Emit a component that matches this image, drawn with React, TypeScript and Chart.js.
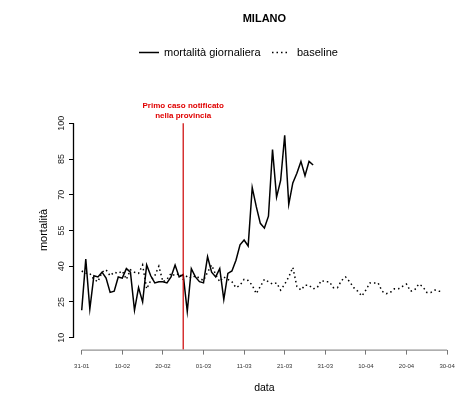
import React, { useEffect, useRef } from 'react';
import { Chart, registerables } from 'chart.js';
Chart.register(...registerables);

// day 0 = 31-01-2020
const tickDays = [0, 10, 20, 30, 40, 50, 60, 70, 80, 90];
const tickLabels = ['31-01', '10-02', '20-02', '01-03', '11-03', '21-03', '31-03', '10-04', '20-04', '30-04'];
const yTicks = [10, 25, 40, 55, 70, 85, 100];

const mortalita = [
  21.5, 43, 22, 36, 35.5, 37.5, 35, 29, 29.5, 35.5,
  35, 39, 37.5, 21.5, 31, 25, 40.5, 36, 33, 33.5,
  33.5, 33, 35.5, 40.5, 35.5, 36.5, 21, 39, 35.5, 33.5,
  33, 44, 37.5, 35.5, 39, 26, 37, 38, 42.5, 49,
  51, 48.5, 73, 65, 58, 56, 61, 89, 69, 76,
  95, 66, 75, 79, 84, 78, 84, 82.5,
];

const baseline = [
  38, 37, 37, 34.5, 33.5, 37.5, 38.5, 36, 37.5, 37,
  38, 34.5, 38.5, 37.5, 37, 40.5, 30.5, 34, 36, 40,
  33.5, 34.5, 37, 36, 37, 34.5, 36, 35, 36, 35,
  34, 37.5, 40.5, 36.5, 33.5, 35.5, 34.5, 33.5, 31, 32,
  34.5, 34, 32, 28.5, 31.5, 34.5, 33.5, 32.5, 33, 30,
  32.5, 35.5, 39.5, 31.5, 30, 32, 32, 30.5, 31, 34,
  33.5, 33.5, 31, 31, 34, 35.5, 33.5, 31, 29.5, 27.5,
  30, 33, 33, 33, 29.5, 28.5, 29, 30.5, 30.5, 31.5,
  32.5, 29.5, 30, 32.5, 31.5, 29, 29, 30, 29.5, 29.5,
];

const firstCaseDay = 25;
const seriesNames = ['mortalità giornaliera', 'baseline'];

const FONT = '"Liberation Sans", Arial, Helvetica, sans-serif';

const overlay = {
  id: 'overlay',
  afterDatasetsDraw(chart: any) {
    const { ctx, chartArea, scales } = chart;
    const xs = scales.x;
    const ys = scales.y;
    ctx.save();
    // red vertical line
    const rx = xs.getPixelForValue(firstCaseDay);
    ctx.strokeStyle = '#cc0000';
    ctx.lineWidth = 1.2;
    ctx.setLineDash([]);
    ctx.beginPath();
    ctx.moveTo(rx, chartArea.top);
    ctx.lineTo(rx, chartArea.bottom);
    ctx.stroke();
    // annotation
    ctx.fillStyle = '#e00000';
    ctx.font = `bold 8px ${FONT}`;
    ctx.textAlign = 'center';
    ctx.textBaseline = 'middle';
    ctx.fillText('Primo caso notificato', rx, 106);
    ctx.fillText('nella provincia', rx, 116);

    // x axis line
    ctx.strokeStyle = '#777';
    ctx.lineWidth = 1;
    ctx.beginPath();
    ctx.moveTo(xs.getPixelForValue(tickDays[0]), chartArea.bottom + 0.5);
    ctx.lineTo(xs.getPixelForValue(tickDays[tickDays.length - 1]), chartArea.bottom + 0.5);
    ctx.stroke();
    // y axis line
    ctx.strokeStyle = '#000';
    ctx.lineWidth = 1.3;
    ctx.beginPath();
    ctx.moveTo(chartArea.left - 0.5, ys.getPixelForValue(yTicks[0]));
    ctx.lineTo(chartArea.left - 0.5, ys.getPixelForValue(yTicks[yTicks.length - 1]));
    ctx.stroke();
    // y tick labels rotated
    ctx.fillStyle = '#222';
    ctx.font = `9px ${FONT}`;
    ctx.textAlign = 'center';
    ctx.textBaseline = 'middle';
    yTicks.forEach((v) => {
      const py = ys.getPixelForValue(v);
      ctx.save();
      ctx.translate(chartArea.left - 12.5, py);
      ctx.rotate(-Math.PI / 2);
      ctx.fillText(String(v), 0, 0);
      ctx.restore();
    });
    // axis titles
    const cx = (chartArea.left + chartArea.right) / 2;
    ctx.fillStyle = '#000';
    ctx.font = `10.5px ${FONT}`;
    ctx.fillText('data', cx, 388);
    ctx.save();
    ctx.translate(44, 230);
    ctx.rotate(-Math.PI / 2);
    ctx.font = `11px ${FONT}`;
    ctx.fillText('mortalità', 0, 0);
    ctx.restore();
    // title
    ctx.font = `bold 11px ${FONT}`;
    ctx.fillText('MILANO', cx, 18.5);
    // legend
    ctx.font = `11px ${FONT}`;
    ctx.textAlign = 'left';
    ctx.strokeStyle = '#000';
    ctx.lineWidth = 1.5;
    ctx.beginPath();
    ctx.moveTo(139, 52.5);
    ctx.lineTo(159, 52.5);
    ctx.stroke();
    ctx.fillText(seriesNames[0], 164, 52.5);
    ctx.setLineDash([1.5, 3]);
    ctx.beginPath();
    ctx.moveTo(272, 52.5);
    ctx.lineTo(289, 52.5);
    ctx.stroke();
    ctx.setLineDash([]);
    ctx.fillText(seriesNames[1], 297, 52.5);
    ctx.restore();
  },
};

export default function App() {
  const ref = useRef<HTMLCanvasElement>(null);
  useEffect(() => {
    if (!ref.current) return;
    const chart = new Chart(ref.current, {
      type: 'line',
      data: {
        datasets: [
          {
            label: seriesNames[0],
            data: mortalita.map((v, i) => ({ x: i, y: v })),
            borderColor: '#000',
            borderWidth: 1.5,
            pointRadius: 0,
            tension: 0,
            fill: false,
          },
          {
            label: seriesNames[1],
            data: baseline.map((v, i) => ({ x: i, y: v })),
            borderColor: '#000',
            borderWidth: 1.5,
            borderDash: [1.5, 3],
            pointRadius: 0,
            tension: 0,
            fill: false,
          },
        ],
      },
      options: {
        responsive: false,
        animation: false,
        devicePixelRatio: 1,
        layout: { padding: { top: 123.3, right: 19.2, left: 0, bottom: 0 } },
        plugins: { legend: { display: false }, title: { display: false }, tooltip: { enabled: false } },
        scales: {
          x: {
            type: 'linear',
            min: -1.9,
            max: 91.9,
            afterBuildTicks: (s: any) => {
              s.ticks = tickDays.map((v) => ({ value: v }));
            },
            afterFit: (s: any) => {
              s.height = 397 - 349.6;
            },
            border: { display: false },
            grid: { drawOnChartArea: false, drawTicks: true, tickLength: 5, color: '#777', tickColor: '#777' },
            ticks: {
              autoSkip: false,
              maxRotation: 0,
              minRotation: 0,
              padding: 8,
              color: '#333',
              font: { size: 6, family: FONT },
              callback: (v: any) => {
                const i = tickDays.indexOf(Number(v));
                return i >= 0 ? tickLabels[i] : '';
              },
            },
          },
          y: {
            type: 'linear',
            min: 5,
            max: 100,
            afterBuildTicks: (s: any) => {
              s.ticks = yTicks.map((v) => ({ value: v }));
            },
            afterFit: (s: any) => {
              s.width = 74;
            },
            border: { display: false },
            grid: { drawOnChartArea: false, drawTicks: true, tickLength: 5, color: '#000', tickColor: '#000' },
            ticks: { display: false },
          },
        },
      },
      plugins: [overlay],
    });
    return () => chart.destroy();
  }, []);
  return (
    <div style={{ position: 'fixed', left: 0, top: 0, width: 474, height: 397, background: '#fff' }}>
      <canvas ref={ref} width={474} height={397} style={{ width: 474, height: 397 }} />
    </div>
  );
}
